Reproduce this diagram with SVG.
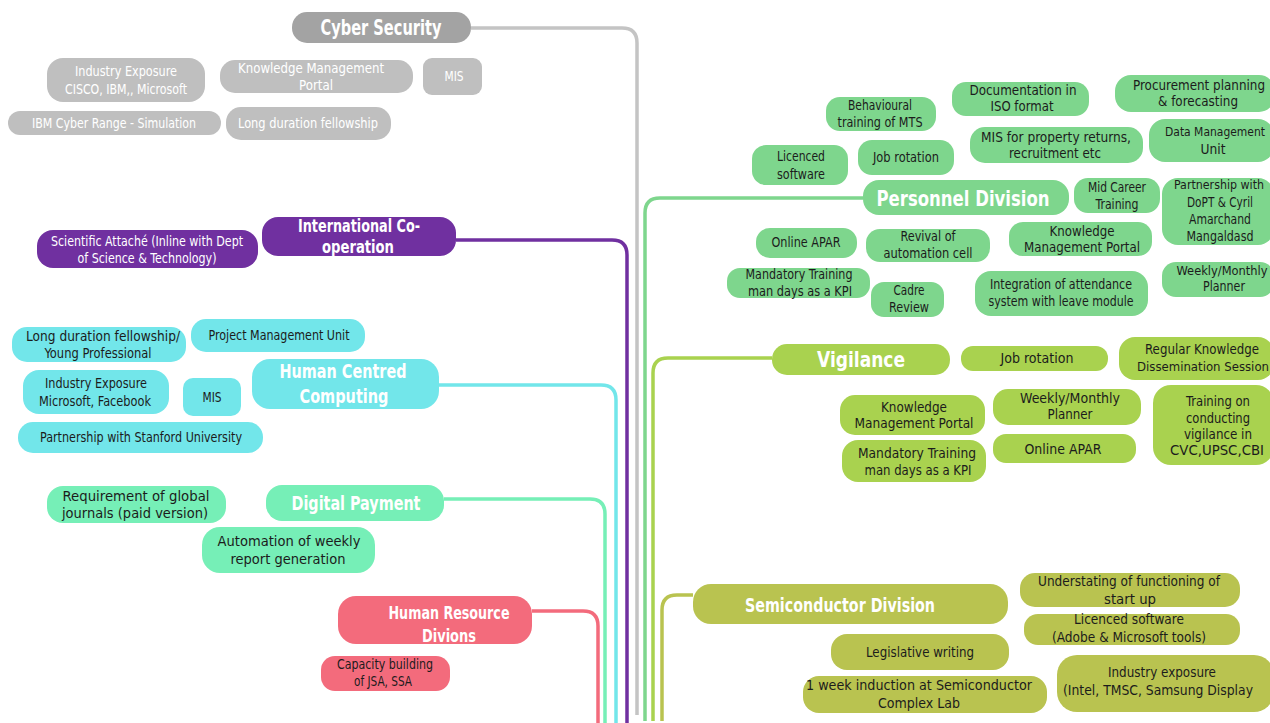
<svg xmlns="http://www.w3.org/2000/svg" width="1270" height="723" viewBox="0 0 1270 723">
<style>
text{font-family:"DejaVu Sans Condensed","Liberation Sans",sans-serif;font-stretch:condensed;text-anchor:middle;font-size:14px;fill:#1c1c1c}
.t{font-weight:bold;fill:#fff}
.h21{font-size:21px}.h18{font-size:18px}.h19{font-size:19px}.h17{font-size:17px}.h24{font-size:21px}.h22{font-size:22px}
.e{font-size:11.5px}
.w{fill:#fff}
.c{fill:none;stroke-width:3.5;stroke-linecap:butt}
.gy1{fill:#a3a3a3}.gy2{fill:#bfbfbf}
.pu{fill:#7030a0}.cy{fill:#72e6ea}.mi{fill:#76efb7}.rd{fill:#f36b7c}
.gr{fill:#7ed68d}.yg{fill:#a9d24f}.ol{fill:#b9c350}
</style>
<rect width="1270" height="723" fill="#fff"/>
<g id="connectors">
<path class="c" stroke="#c4c4c4" d="M471,28 H622 Q637,28 637,43 V715"/>
<path class="c" stroke="#7030a0" d="M456,240 H612 Q627,240 627,255 V723"/>
<path class="c" stroke="#72e6ea" d="M439,385 H601 Q616,385 616,400 V723"/>
<path class="c" stroke="#76efb7" d="M444,499 H590 Q605,499 605,514 V723"/>
<path class="c" stroke="#f36b7c" d="M532,611 H583 Q598,611 598,626 V723"/>
<path class="c" stroke="#7ed68d" d="M863,198 H660 Q645,198 645,213 V721"/>
<path class="c" stroke="#a9d24f" d="M772,358 H668 Q653,358 653,373 V721"/>
<path class="c" stroke="#b9c350" d="M693,595 H677 Q662,595 662,610 V721"/>
</g>
<g id="cyber-security"><rect class="gy1" x="292" y="12" width="179" height="31" rx="15"/><text class="t h21" x="381" y="35" textLength="121" lengthAdjust="spacingAndGlyphs">Cyber Security</text></g>
<g id="cs-industry"><rect class="gy2" x="47" y="58" width="158" height="44" rx="16"/><text class="w" x="126" y="76" textLength="102" lengthAdjust="spacingAndGlyphs">Industry Exposure</text><text class="w" x="126" y="94" textLength="122" lengthAdjust="spacingAndGlyphs">CISCO, IBM,, Microsoft</text></g>
<g id="cs-kmp"><rect class="gy2" x="220" y="60" width="193" height="33" rx="15"/><text class="w" x="311" y="73" textLength="146" lengthAdjust="spacingAndGlyphs">Knowledge Management</text><text class="w" x="316" y="90" textLength="34" lengthAdjust="spacingAndGlyphs">Portal</text></g>
<g id="cs-mis"><rect class="gy2" x="423" y="58" width="59" height="37" rx="9"/><text class="w" x="454" y="81" textLength="19" lengthAdjust="spacingAndGlyphs">MIS</text></g>
<g id="cs-ibm"><rect class="gy2" x="8" y="111" width="213" height="24" rx="12"/><text class="w" x="114" y="128" textLength="164" lengthAdjust="spacingAndGlyphs">IBM Cyber Range - Simulation</text></g>
<g id="cs-fellow"><rect class="gy2" x="226" y="107" width="165" height="33" rx="15"/><text class="w" x="308" y="128" textLength="140" lengthAdjust="spacingAndGlyphs">Long duration fellowship</text></g>

<g id="international"><rect class="pu" x="262" y="217" width="194" height="39" rx="16"/><text class="t h18" x="359" y="232" textLength="122" lengthAdjust="spacingAndGlyphs">International Co-</text><text class="t h18" x="358" y="253" textLength="72" lengthAdjust="spacingAndGlyphs">operation</text></g>
<g id="ic-attache"><rect class="pu" x="37" y="230" width="221" height="38" rx="16"/><text class="w" x="147" y="246" textLength="192" lengthAdjust="spacingAndGlyphs">Scientific Attaché (Inline with Dept</text><text class="w" x="147" y="263" textLength="139" lengthAdjust="spacingAndGlyphs">of Science &amp; Technology)</text></g>

<g id="hcc"><rect class="cy" x="252" y="359" width="187" height="50" rx="18"/><text class="t h19" x="343" y="378" textLength="127" lengthAdjust="spacingAndGlyphs">Human Centred</text><text class="t h19" x="344" y="403" textLength="89" lengthAdjust="spacingAndGlyphs">Computing</text></g>
<g id="hcc-fellow"><rect class="cy" x="12" y="327" width="174" height="35" rx="15"/><text x="103" y="341" textLength="154" lengthAdjust="spacingAndGlyphs">Long duration fellowship/</text><text x="98" y="358" textLength="107" lengthAdjust="spacingAndGlyphs">Young Professional</text></g>
<g id="hcc-pmu"><rect class="cy" x="191" y="319" width="174" height="33" rx="15"/><text x="279" y="340" textLength="141" lengthAdjust="spacingAndGlyphs">Project Management Unit</text></g>
<g id="hcc-industry"><rect class="cy" x="23" y="370" width="146" height="44" rx="16"/><text x="96" y="388" textLength="102" lengthAdjust="spacingAndGlyphs">Industry Exposure</text><text x="95" y="406" textLength="112" lengthAdjust="spacingAndGlyphs">Microsoft, Facebook</text></g>
<g id="hcc-mis"><rect class="cy" x="183" y="378" width="58" height="38" rx="10"/><text x="212" y="402" textLength="19" lengthAdjust="spacingAndGlyphs">MIS</text></g>
<g id="hcc-stanford"><rect class="cy" x="18" y="422" width="245" height="31" rx="15"/><text x="141" y="442" textLength="202" lengthAdjust="spacingAndGlyphs">Partnership with Stanford University</text></g>

<g id="digital-payment"><rect class="mi" x="266" y="485" width="178" height="36" rx="16"/><text class="t h19" x="356" y="510" textLength="129" lengthAdjust="spacingAndGlyphs">Digital Payment</text></g>
<g id="dp-journals"><rect class="mi" x="47" y="486" width="179" height="37" rx="16"/><text x="136" y="501" textLength="147" lengthAdjust="spacingAndGlyphs">Requirement of global</text><text x="135" y="518" textLength="146" lengthAdjust="spacingAndGlyphs">journals (paid version)</text></g>
<g id="dp-automation"><rect class="mi" x="202" y="527" width="173" height="46" rx="18"/><text x="289" y="546" textLength="143" lengthAdjust="spacingAndGlyphs">Automation of weekly</text><text x="288" y="564" textLength="115" lengthAdjust="spacingAndGlyphs">report generation</text></g>

<g id="hr"><rect class="rd" x="338" y="596" width="194" height="48" rx="18"/><text class="t h17" x="449" y="619" textLength="121" lengthAdjust="spacingAndGlyphs">Human Resource</text><text class="t h17" x="449" y="642" textLength="54" lengthAdjust="spacingAndGlyphs">Divions</text></g>
<g id="hr-capacity"><rect class="rd" x="321" y="656" width="129" height="35" rx="14"/><text x="385" y="669" textLength="96" lengthAdjust="spacingAndGlyphs">Capacity building</text><text x="383" y="686" textLength="58" lengthAdjust="spacingAndGlyphs">of JSA, SSA</text></g>

<g id="personnel"><rect class="gr" x="863" y="180" width="206" height="35" rx="16"/><text class="t h24" x="963" y="206" textLength="173" lengthAdjust="spacingAndGlyphs">Personnel Division</text></g>
<g id="pd-behav"><rect class="gr" x="826" y="97" width="110" height="34" rx="14"/><text x="880" y="110" textLength="64" lengthAdjust="spacingAndGlyphs">Behavioural</text><text x="880" y="127" textLength="85" lengthAdjust="spacingAndGlyphs">training of MTS</text></g>
<g id="pd-iso"><rect class="gr" x="952" y="82" width="137" height="34" rx="14"/><text x="1023" y="95" textLength="107" lengthAdjust="spacingAndGlyphs">Documentation in</text><text x="1022" y="111" textLength="63" lengthAdjust="spacingAndGlyphs">ISO format</text></g>
<g id="pd-procure"><rect class="gr" x="1115" y="75" width="160" height="37" rx="16"/><text x="1199" y="90" textLength="132" lengthAdjust="spacingAndGlyphs">Procurement planning</text><text x="1198" y="106" textLength="80" lengthAdjust="spacingAndGlyphs">&amp; forecasting</text></g>
<g id="pd-mis"><rect class="gr" x="970" y="127" width="173" height="36" rx="15"/><text x="1056" y="142" textLength="150" lengthAdjust="spacingAndGlyphs">MIS for property returns,</text><text x="1055" y="158" textLength="92" lengthAdjust="spacingAndGlyphs">recruitment etc</text></g>
<g id="pd-dmu"><rect class="gr" x="1149" y="119" width="125" height="43" rx="16"/><text class="e" x="1215" y="136" textLength="100" lengthAdjust="spacingAndGlyphs">Data Management</text><text x="1213" y="154" textLength="25" lengthAdjust="spacingAndGlyphs">Unit</text></g>
<g id="pd-licence"><rect class="gr" x="752" y="145" width="96" height="40" rx="14"/><text x="801" y="161" textLength="48" lengthAdjust="spacingAndGlyphs">Licenced</text><text x="801" y="179" textLength="48" lengthAdjust="spacingAndGlyphs">software</text></g>
<g id="pd-job"><rect class="gr" x="858" y="140" width="96" height="35" rx="14"/><text x="906" y="162" textLength="66" lengthAdjust="spacingAndGlyphs">Job rotation</text></g>
<g id="pd-midcareer"><rect class="gr" x="1074" y="178" width="86" height="35" rx="14"/><text x="1117" y="192" textLength="58" lengthAdjust="spacingAndGlyphs">Mid Career</text><text x="1117" y="209" textLength="43" lengthAdjust="spacingAndGlyphs">Training</text></g>
<g id="pd-dopt"><rect class="gr" x="1162" y="178" width="112" height="67" rx="16"/><text class="e" x="1219" y="189" textLength="90" lengthAdjust="spacingAndGlyphs">Partnership with</text><text x="1220" y="207" textLength="66" lengthAdjust="spacingAndGlyphs">DoPT &amp; Cyril</text><text x="1220" y="224" textLength="62" lengthAdjust="spacingAndGlyphs">Amarchand</text><text x="1220" y="241" textLength="67" lengthAdjust="spacingAndGlyphs">Mangaldasd</text></g>
<g id="pd-apar"><rect class="gr" x="756" y="228" width="101" height="30" rx="14"/><text x="806" y="247" textLength="69" lengthAdjust="spacingAndGlyphs">Online APAR</text></g>
<g id="pd-revival"><rect class="gr" x="866" y="229" width="124" height="33" rx="14"/><text x="928" y="241" textLength="55" lengthAdjust="spacingAndGlyphs">Revival of</text><text x="928" y="258" textLength="89" lengthAdjust="spacingAndGlyphs">automation cell</text></g>
<g id="pd-kmp"><rect class="gr" x="1009" y="222" width="143" height="34" rx="14"/><text x="1082" y="236" textLength="65" lengthAdjust="spacingAndGlyphs">Knowledge</text><text x="1082" y="252" textLength="116" lengthAdjust="spacingAndGlyphs">Management Portal</text></g>
<g id="pd-mandatory"><rect class="gr" x="727" y="268" width="143" height="30" rx="13"/><text x="799" y="279" textLength="107" lengthAdjust="spacingAndGlyphs">Mandatory Training</text><text x="800" y="296" textLength="104" lengthAdjust="spacingAndGlyphs">man days as a KPI</text></g>
<g id="pd-cadre"><rect class="gr" x="871" y="282" width="73" height="35" rx="13"/><text x="909" y="295" textLength="31" lengthAdjust="spacingAndGlyphs">Cadre</text><text x="909" y="312" textLength="40" lengthAdjust="spacingAndGlyphs">Review</text></g>
<g id="pd-attendance"><rect class="gr" x="975" y="271" width="173" height="45" rx="16"/><text x="1061" y="289" textLength="142" lengthAdjust="spacingAndGlyphs">Integration of attendance</text><text x="1061" y="306" textLength="145" lengthAdjust="spacingAndGlyphs">system with leave module</text></g>
<g id="pd-weekly"><rect class="gr" x="1162" y="262" width="112" height="35" rx="14"/><text class="e" x="1222" y="275" textLength="91" lengthAdjust="spacingAndGlyphs">Weekly/Monthly</text><text x="1224" y="291" textLength="42" lengthAdjust="spacingAndGlyphs">Planner</text></g>

<g id="vigilance"><rect class="yg" x="772" y="344" width="178" height="31" rx="15"/><text class="t h22" x="861" y="367" textLength="88" lengthAdjust="spacingAndGlyphs">Vigilance</text></g>
<g id="vg-job"><rect class="yg" x="961" y="346" width="147" height="25" rx="12"/><text x="1037" y="363" textLength="73" lengthAdjust="spacingAndGlyphs">Job rotation</text></g>
<g id="vg-regular"><rect class="yg" x="1119" y="337" width="155" height="43" rx="16"/><text x="1202" y="354" textLength="114" lengthAdjust="spacingAndGlyphs">Regular Knowledge</text><text class="e" x="1203" y="371" textLength="132" lengthAdjust="spacingAndGlyphs">Dissemination Session</text></g>
<g id="vg-kmp"><rect class="yg" x="840" y="395" width="145" height="40" rx="15"/><text x="914" y="412" textLength="66" lengthAdjust="spacingAndGlyphs">Knowledge</text><text x="914" y="428" textLength="119" lengthAdjust="spacingAndGlyphs">Management Portal</text></g>
<g id="vg-weekly"><rect class="yg" x="993" y="389" width="148" height="36" rx="15"/><text x="1070" y="403" textLength="100" lengthAdjust="spacingAndGlyphs">Weekly/Monthly</text><text x="1070" y="419" textLength="45" lengthAdjust="spacingAndGlyphs">Planner</text></g>
<g id="vg-training"><rect class="yg" x="1153" y="385" width="121" height="80" rx="18"/><text x="1218" y="406" textLength="64" lengthAdjust="spacingAndGlyphs">Training on</text><text x="1218" y="423" textLength="64" lengthAdjust="spacingAndGlyphs">conducting</text><text x="1218" y="439" textLength="68" lengthAdjust="spacingAndGlyphs">vigilance in</text><text x="1217" y="455" textLength="94" lengthAdjust="spacingAndGlyphs">CVC,UPSC,CBI</text></g>
<g id="vg-mandatory"><rect class="yg" x="842" y="440" width="144" height="42" rx="16"/><text x="917" y="458" textLength="118" lengthAdjust="spacingAndGlyphs">Mandatory Training</text><text x="918" y="475" textLength="107" lengthAdjust="spacingAndGlyphs">man days as a KPI</text></g>
<g id="vg-apar"><rect class="yg" x="993" y="434" width="143" height="29" rx="13"/><text x="1063" y="454" textLength="77" lengthAdjust="spacingAndGlyphs">Online APAR</text></g>

<g id="semiconductor"><rect class="ol" x="693" y="584" width="315" height="40" rx="18"/><text class="t h19" x="840" y="612" textLength="190" lengthAdjust="spacingAndGlyphs">Semiconductor Division</text></g>
<g id="sc-startup"><rect class="ol" x="1020" y="573" width="220" height="34" rx="15"/><text x="1129" y="586" textLength="182" lengthAdjust="spacingAndGlyphs">Understating of functioning of</text><text x="1130" y="604" textLength="52" lengthAdjust="spacingAndGlyphs">start up</text></g>
<g id="sc-licence"><rect class="ol" x="1024" y="614" width="216" height="31" rx="14"/><text x="1129" y="624" textLength="110" lengthAdjust="spacingAndGlyphs">Licenced software</text><text x="1129" y="642" textLength="154" lengthAdjust="spacingAndGlyphs">(Adobe &amp; Microsoft tools)</text></g>
<g id="sc-legislative"><rect class="ol" x="831" y="634" width="178" height="36" rx="16"/><text x="920" y="657" textLength="108" lengthAdjust="spacingAndGlyphs">Legislative writing</text></g>
<g id="sc-induction"><rect class="ol" x="803" y="676" width="244" height="37" rx="16"/><text x="919" y="690" textLength="226" lengthAdjust="spacingAndGlyphs">1 week induction at Semiconductor</text><text x="919" y="708" textLength="82" lengthAdjust="spacingAndGlyphs">Complex Lab</text></g>
<g id="sc-industry"><rect class="ol" x="1057" y="655" width="217" height="57" rx="20"/><text x="1162" y="677" textLength="108" lengthAdjust="spacingAndGlyphs">Industry exposure</text><text x="1158" y="695" textLength="190" lengthAdjust="spacingAndGlyphs">(Intel, TMSC, Samsung Display</text></g>
</svg>
